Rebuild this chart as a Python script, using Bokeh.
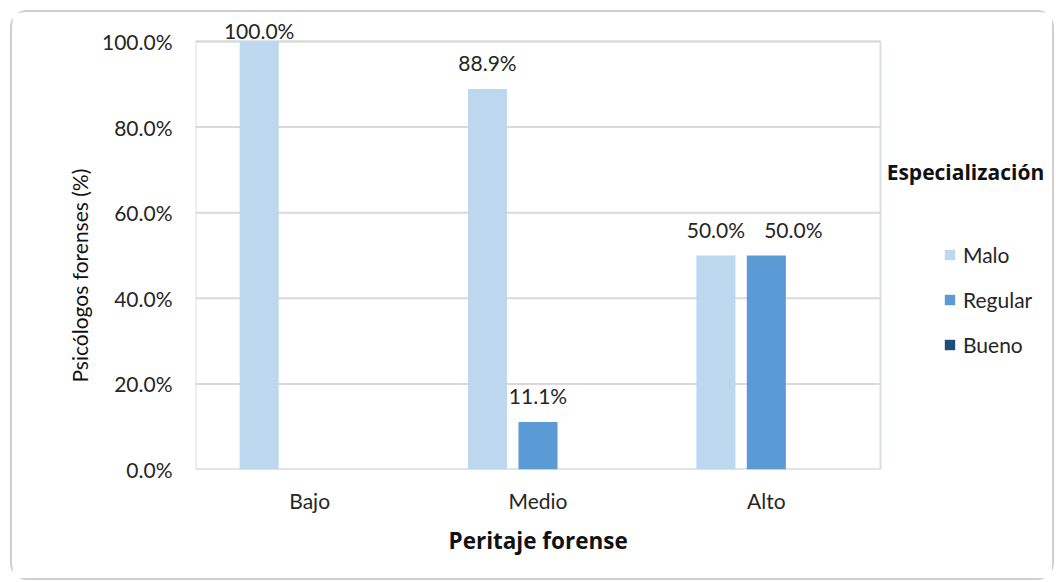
from bokeh.plotting import figure
from bokeh.models import (ColumnDataSource, Range1d, FixedTicker, PrintfTickFormatter,
                          Legend, LegendItem, LabelSet, Label, Title)
from bokeh.transform import dodge
from bokeh.core.properties import value
from bokeh.embed import file_html
from bokeh.resources import INLINE

categories = ["Bajo", "Medio", "Alto"]
series = ["Malo", "Regular", "Bueno"]
malo = [100.0, 88.9, 50.0]
regular = [0.0, 11.1, 50.0]
bueno = [0.0, 0.0, 0.0]
colors = ["#bdd7ee", "#5b9bd5", "#1f4e79"]
y_ticks = [0, 20, 40, 60, 80, 100]

FONT = "Lato"
BOLD_FONT = "Open Sans"
TXT = "#262626"
# nudge (px) of individual data labels, as placed in the original chart
LABEL_NUDGE = {("Regular", "Alto"): 27}

# category slot centres on the numeric axis (one unit per category)
xc = [i + 0.5 for i in range(len(categories))]
ncat = len(categories)
src = ColumnDataSource(dict(xc=xc, Malo=malo, Regular=regular, Bueno=bueno))

# layout (pixels): canvas 1044x570, plot area 685x428
PLOT_W, PLOT_H = 685, 428
BL, BB = 183, 113
CW, CH = 1044, 570
frame_w, frame_h = CW - BL, CH - BB
xmax = ncat * frame_w / PLOT_W
ymax = 100 * frame_h / PLOT_H

p = figure(x_range=Range1d(0, xmax), y_range=Range1d(0, ymax),
           width=CW, height=CH, output_backend="svg", toolbar_location=None,
           min_border_left=BL, min_border_right=0, min_border_top=0, min_border_bottom=BB)
p.styles = {"border": "2px solid #cfcfcf", "border-radius": "17px",
            "margin-left": "10px", "margin-top": "10px"}
p.background_fill_color = "white"
p.border_fill_color = "white"
p.outline_line_color = None
p.xgrid.grid_line_color = None
p.ygrid.grid_line_color = None

# plot-area frame and horizontal grid lines
p.quad(left=[0], right=[ncat], bottom=[0], top=[100], fill_color=None,
       line_color="#d9dee5", line_width=2)
p.segment(x0=[0] * len(y_ticks), x1=[ncat] * len(y_ticks), y0=y_ticks, y1=y_ticks,
          line_color="#d9d9d9", line_width=2)

offsets = [-0.221, 0.0, 0.221]
bar_w = 0.171
renderers = []
for s, off, c in zip(series, offsets, colors):
    r = p.vbar(x=dodge("xc", off), top=s, width=bar_w, source=src,
               fill_color=c, line_color=None)
    renderers.append(r)

# data labels (non-zero values only)
for s, off, vals in zip(series, offsets, [malo, regular, bueno]):
    rows = [(x, c, v) for x, c, v in zip(xc, categories, vals) if v > 0]
    if not rows:
        continue
    ls = ColumnDataSource(dict(
        xc=[r[0] for r in rows], v=[r[2] for r in rows],
        txt=["%.1f%%" % r[2] for r in rows],
        yo=[3 if r[2] >= 95 else 18 for r in rows],
        xo=[LABEL_NUDGE.get((s, r[1]), 0) for r in rows]))
    p.add_layout(LabelSet(x=dodge("xc", off), y="v", text="txt", y_offset="yo", x_offset="xo",
                          source=ls, text_align="center", text_baseline="alphabetic",
                          text_font=value(FONT), text_font_size="21px", text_color=TXT))

# axes
for ax in (p.xaxis[0], p.yaxis[0]):
    ax.axis_line_color = None
    ax.major_tick_line_color = None
    ax.minor_tick_line_color = None
    ax.major_label_text_font = FONT
    ax.major_label_text_font_size = "21px"
    ax.major_label_text_color = TXT
p.xaxis.ticker = FixedTicker(ticks=xc)
p.xaxis.major_label_overrides = {x: c for x, c in zip(xc, categories)}
p.xaxis.major_label_standoff = 12
p.yaxis.ticker = FixedTicker(ticks=y_ticks)
p.yaxis.formatter = PrintfTickFormatter(format="%.1f%%")
p.yaxis.major_label_standoff = 17

p.add_layout(Title(text="Psicólogos forenses (%)", align="left", offset=87, standoff=13,
                   text_font=FONT, text_font_size="21px", text_font_style="normal",
                   text_color="#111111"), "left")
p.add_layout(Title(text="Peritaje forense", align="left", offset=253, standoff=14,
                   text_font=BOLD_FONT, text_font_size="22.5px", text_font_style="bold",
                   text_color="#111111"), "below")

# legend
legend = Legend(items=[LegendItem(label=s, renderers=[r]) for s, r in zip(series, renderers)],
                location=(748, 112), padding=0, margin=0, spacing=20,
                glyph_width=13, glyph_height=13, label_standoff=7, label_height=20,
                label_text_font=FONT, label_text_font_size="21px", label_text_color=TXT,
                border_line_color=None, background_fill_alpha=0)
p.add_layout(legend, "center")

p.add_layout(Label(x=3.027, y=69.4, text="Especialización", text_baseline="middle",
                   text_font=BOLD_FONT, text_font_size="21px", text_font_style="bold",
                   text_color="#111111"))

open("out.html", "w").write(file_html(p, INLINE))
